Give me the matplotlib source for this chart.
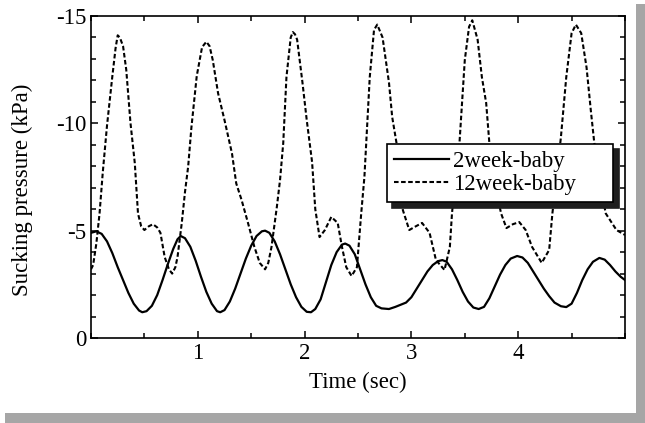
import matplotlib
matplotlib.use("Agg")
import matplotlib.pyplot as plt
from matplotlib.patches import Rectangle
from matplotlib.ticker import MultipleLocator

plt.rcParams['font.family'] = ['Liberation Serif', 'DejaVu Serif']

# 2 week baby (sucking pressure, kPa)
t_2w = [0.00, 0.05, 0.10, 0.15, 0.20, 0.25, 0.30, 0.35, 0.40, 0.45, 0.48, 0.52, 0.57, 0.62,
        0.67, 0.72, 0.77, 0.81, 0.84, 0.88, 0.93, 0.98, 1.03, 1.08, 1.13, 1.18, 1.21, 1.25,
        1.30, 1.35, 1.40, 1.45, 1.50, 1.55, 1.60, 1.63, 1.67, 1.72, 1.77, 1.82, 1.87, 1.92,
        1.97, 2.02, 2.06, 2.10, 2.15, 2.20, 2.25, 2.30, 2.35, 2.38, 2.42, 2.47, 2.52, 2.57,
        2.62, 2.67, 2.72, 2.79, 2.85, 2.90, 2.95, 3.00, 3.05, 3.10, 3.15, 3.20, 3.25, 3.29,
        3.33, 3.38, 3.43, 3.48, 3.53, 3.58, 3.63, 3.68, 3.73, 3.78, 3.83, 3.88, 3.93, 3.99,
        4.04, 4.09, 4.14, 4.19, 4.24, 4.29, 4.34, 4.40, 4.45, 4.50, 4.55, 4.60, 4.65, 4.70,
        4.76, 4.81, 4.86, 4.91, 4.96, 5.00]
p_2w = [-4.90, -4.97, -4.85, -4.50, -3.95, -3.30, -2.70, -2.10, -1.60, -1.28, -1.20, -1.25, -1.50, -2.00,
        -2.70, -3.45, -4.15, -4.60, -4.75, -4.65, -4.25, -3.60, -2.85, -2.15, -1.60, -1.25, -1.20, -1.30,
        -1.70, -2.30, -3.00, -3.70, -4.30, -4.75, -4.97, -5.00, -4.90, -4.50, -3.90, -3.20, -2.50, -1.90,
        -1.45, -1.22, -1.20, -1.35, -1.80, -2.60, -3.40, -4.00, -4.35, -4.40, -4.30, -3.90, -3.20, -2.50,
        -1.90, -1.50, -1.38, -1.35, -1.45, -1.55, -1.65, -1.90, -2.30, -2.70, -3.10, -3.40, -3.58, -3.63,
        -3.55, -3.20, -2.70, -2.15, -1.70, -1.42, -1.35, -1.45, -1.85, -2.40, -2.95, -3.40, -3.70, -3.82,
        -3.75, -3.50, -3.10, -2.70, -2.30, -1.95, -1.65, -1.48, -1.44, -1.60, -2.10, -2.70, -3.20, -3.55,
        -3.73, -3.65, -3.40, -3.10, -2.85, -2.70]

# 12 week baby
t_12w = [0.00, 0.02, 0.05, 0.08, 0.11, 0.15, 0.20, 0.23, 0.25, 0.27, 0.30, 0.33, 0.37, 0.41,
         0.44, 0.47, 0.50, 0.54, 0.58, 0.62, 0.65, 0.69, 0.73, 0.76, 0.79, 0.81, 0.85, 0.88,
         0.91, 0.94, 0.99, 1.04, 1.08, 1.11, 1.14, 1.19, 1.25, 1.32, 1.36, 1.41, 1.47, 1.53,
         1.58, 1.63, 1.66, 1.69, 1.74, 1.77, 1.80, 1.83, 1.87, 1.89, 1.91, 1.93, 1.98, 2.02,
         2.07, 2.10, 2.14, 2.19, 2.25, 2.31, 2.35, 2.39, 2.44, 2.49, 2.53, 2.56, 2.61, 2.65,
         2.68, 2.73, 2.79, 2.82, 2.86, 2.89, 2.92, 2.98, 3.04, 3.10, 3.17, 3.23, 3.31, 3.36,
         3.38, 3.41, 3.45, 3.50, 3.54, 3.57, 3.62, 3.66, 3.70, 3.73, 3.78, 3.84, 3.89, 3.95,
         4.01, 4.07, 4.13, 4.22, 4.29, 4.32, 4.36, 4.40, 4.45, 4.50, 4.54, 4.59, 4.64, 4.68,
         4.71, 4.76, 4.82, 4.92, 5.00]
p_12w = [-3.20, -3.40, -4.40, -5.80, -7.70, -9.90, -12.20, -13.50, -14.10, -14.00, -13.60, -12.50, -10.00, -8.15,
         -5.80, -5.20, -5.03, -5.20, -5.30, -5.15, -4.90, -3.77, -3.20, -3.00, -3.30, -3.77, -5.36, -6.80,
         -8.00, -9.80, -12.20, -13.55, -13.80, -13.60, -12.95, -11.40, -10.15, -8.60, -7.20, -6.43, -5.36, -4.24,
         -3.50, -3.20, -3.50, -4.24, -6.10, -7.36, -9.08, -12.15, -14.00, -14.25, -14.15, -13.90, -11.90, -10.15,
         -8.20, -6.00, -4.70, -5.03, -5.64, -5.36, -4.24, -3.30, -2.89, -3.30, -5.80, -7.50, -12.15, -14.35,
         -14.60, -14.00, -11.90, -10.30, -9.10, -7.20, -5.96, -5.03, -5.20, -5.36, -4.90, -3.63, -3.17, -4.24,
         -5.80, -7.36, -9.08, -12.95, -14.50, -14.80, -13.90, -12.15, -10.95, -9.08, -7.20, -5.80, -5.12, -5.30,
         -5.40, -5.03, -4.24, -3.50, -4.10, -5.80, -7.50, -9.36, -12.15, -14.20, -14.60, -14.20, -12.60, -10.60,
         -9.20, -7.30, -5.80, -5.03, -4.80]

xticks = [1, 2, 3, 4]
yticks = [0, -5, -10, -15]
ytick_labels = ['0', '-5', '-10', '-15']
labels = ['2week-baby', '12week-baby']

fig = plt.figure(figsize=(6.45, 4.23), dpi=100)

# grey drop shadow round the picture
fig.add_artist(Rectangle((636 / 645, 0), 9 / 645, 419 / 423, transform=fig.transFigure,
                         facecolor='#a6a6a6', edgecolor='none', zorder=0))
fig.add_artist(Rectangle((5 / 645, 0), 640 / 645, 10 / 423, transform=fig.transFigure,
                         facecolor='#a6a6a6', edgecolor='none', zorder=0))

ax = fig.add_axes([91 / 645, 85 / 423, 534 / 645, 322 / 423])
ax.plot(t_2w, p_2w, color='black', lw=1.6, label=labels[0])
ax.plot(t_12w, p_12w, color='black', lw=1.5, linestyle=(0, (2.2, 1.2)), label=labels[1])

ax.set_xlim(0, 5)
ax.set_ylim(0, -15)
ax.set_xticks(xticks)
ax.set_yticks(yticks)
ax.set_yticklabels(ytick_labels)
ax.xaxis.set_minor_locator(MultipleLocator(0.5))
ax.yaxis.set_minor_locator(MultipleLocator(1))
ax.tick_params(which='both', direction='in', top=True, right=True, labelsize=16.5, width=1.1)
ax.tick_params(which='major', length=5)
ax.tick_params(which='minor', length=3.5)
for s in ax.spines.values():
    s.set_linewidth(1.2)

ax.set_xlabel('Time (sec)', fontsize=16.5, labelpad=6)
ax.set_ylabel('Sucking pressure (kPa)', fontsize=16.5)
ax.yaxis.set_label_coords(-0.108, 0.46)

leg = ax.legend(loc='lower left', bbox_to_anchor=(0.554, 0.422, 0.424, 0.177), mode='expand',
                borderaxespad=0, fontsize=16.5, handlelength=2.4, handletextpad=0.15,
                borderpad=0.32, labelspacing=0.08, fancybox=False, framealpha=1, edgecolor='black',
                shadow={'ox': 4, 'oy': -4, 'color': '0.12', 'alpha': 1})
leg.get_frame().set_linewidth(1.2)
leg.set_zorder(5)

fig.savefig('out.png', dpi=100)
